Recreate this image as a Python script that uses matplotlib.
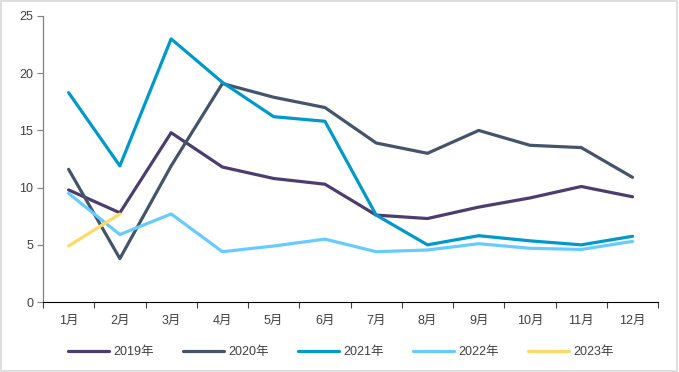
import matplotlib
matplotlib.use("Agg")
import matplotlib.pyplot as plt
from matplotlib.patches import Rectangle

plt.rcParams['font.family'] = ['Liberation Sans', 'Noto Sans CJK SC', 'DejaVu Sans']

months = ['1月', '2月', '3月', '4月', '5月', '6月', '7月', '8月', '9月', '10月', '11月', '12月']
s2019 = [9.8, 7.8, 14.8, 11.8, 10.8, 10.3, 7.6, 7.3, 8.3, 9.1, 10.1, 9.2]
s2020 = [11.6, 3.8, 11.9, 19.1, 17.9, 17.0, 13.9, 13.0, 15.0, 13.7, 13.5, 10.9]
s2021 = [18.3, 11.9, 23.0, 19.2, 16.2, 15.8, 7.6, 5.0, 5.8, 5.35, 5.0, 5.75]
s2022 = [9.5, 5.9, 7.7, 4.4, 4.9, 5.5, 4.4, 4.55, 5.1, 4.7, 4.6, 5.3]
s2023 = [4.9, 7.7]
labels = ['2019年', '2020年', '2021年', '2022年', '2023年']
colors = ['#4B3E6E', '#44546A', '#0099C9', '#66CCFF', '#FFD966']

fig = plt.figure(figsize=(6.79, 3.72), dpi=100)
ax = fig.add_axes([0.0633, 0.188, 0.906, 0.769])

x = list(range(len(months)))
for s, lab, c in zip([s2019, s2020, s2021, s2022, s2023], labels, colors):
    ax.plot(x[:len(s)], s, color=c, lw=2.3, label=lab, solid_capstyle='round', solid_joinstyle='round')

ax.set_xlim(-0.5, 11.5)
ax.set_ylim(0, 25)
ax.set_yticks([0, 5, 10, 15, 20, 25])
ax.set_xticks(x)
ax.set_xticklabels(months)
ax.set_xticks([i - 0.5 for i in range(13)], minor=True)
ax.tick_params(axis='x', which='major', length=0, pad=9, labelsize=9, labelcolor='#404040')
ax.tick_params(axis='x', which='minor', length=4, direction='out', color='#404040', width=0.8)
ax.tick_params(axis='y', length=4, direction='out', color='#808080', width=0.8, labelsize=9, labelcolor='#404040', pad=3)
for sp in ['top', 'right']:
    ax.spines[sp].set_visible(False)
ax.spines['left'].set_color('#808080')
ax.spines['bottom'].set_color('#000000')
ax.spines['bottom'].set_linewidth(0.8)
ax.spines['left'].set_linewidth(0.9)

leg = fig.legend(loc='center', bbox_to_anchor=(0.502, 0.054), ncol=5, frameon=False,
                 fontsize=9, handlelength=3.3, columnspacing=2.3, handletextpad=0.35)
for t in leg.get_texts():
    t.set_color('#404040')

fig.patches.append(Rectangle((0.002, 0.003), 0.995, 0.993, transform=fig.transFigure,
                             fill=False, edgecolor='#D9D9D9', lw=1.2))

fig.savefig('out.png', dpi=100)
